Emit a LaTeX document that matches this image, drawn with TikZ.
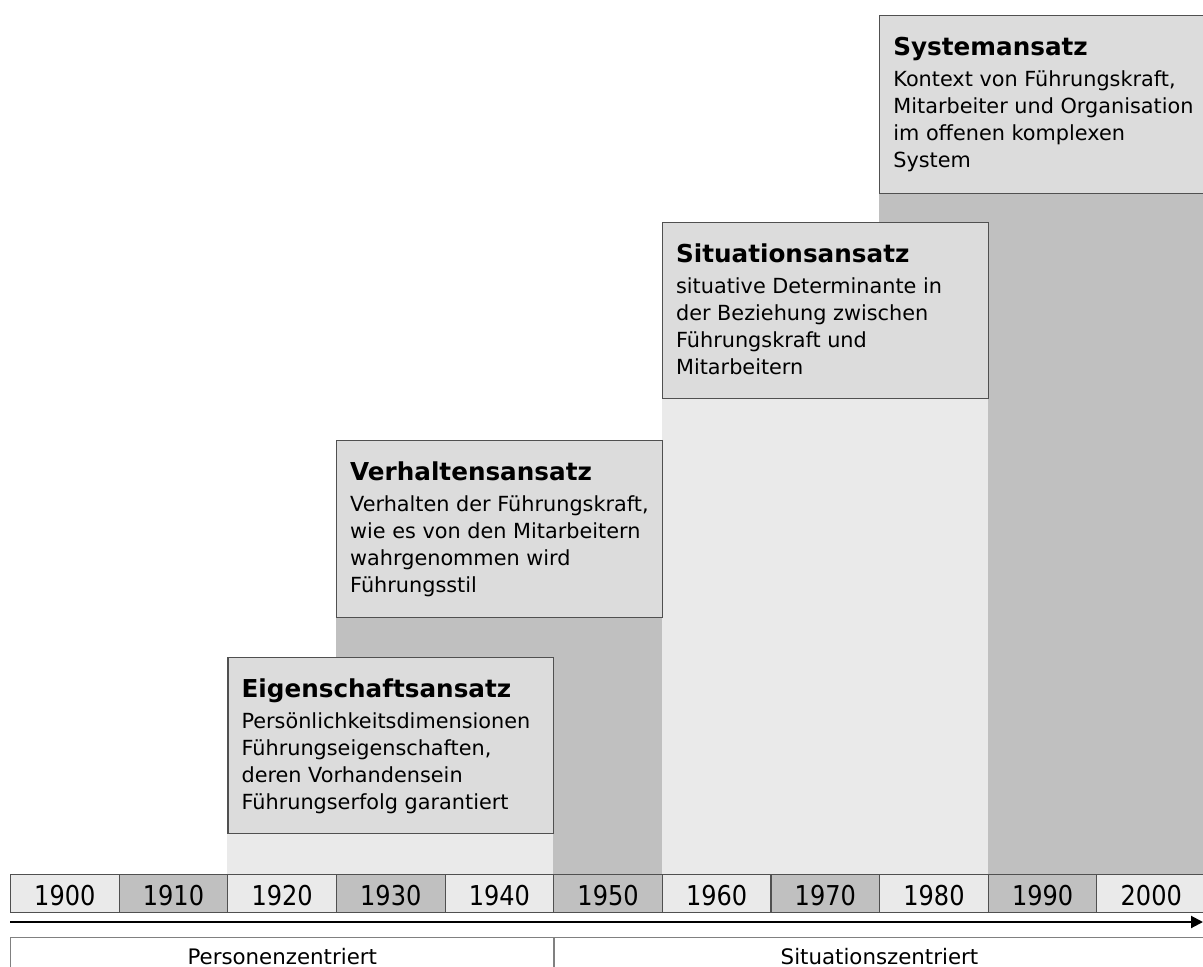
\documentclass[tikz,border=0pt]{standalone}
\usepackage{fontspec}
\setmainfont{DejaVu Sans}
\newfontfamily\yearfamily[FakeStretch=0.88]{DejaVu Sans}
\usetikzlibrary{arrows.meta,calc}
\definecolor{boxfill}{HTML}{DCDCDC}
\definecolor{lightcol}{HTML}{EAEAEA}
\definecolor{darkcol}{HTML}{C0C0C0}
\definecolor{edgecol}{HTML}{505050}
\definecolor{lowedge}{HTML}{808080}
\newcommand{\bodyfont}{\fontsize{15.6}{20.25}\selectfont}
\newcommand{\titlefont}{\fontsize{18.5}{22}\selectfont\bfseries}
\newcommand{\bodylines}[1]{\parbox[t]{300pt}{\bodyfont #1}}
\begin{document}
\begin{tikzpicture}[x=0.75pt,y=-0.75pt,
  stagebox/.style={draw=edgecol, fill=boxfill, line width=0.9pt, anchor=north west,
    inner sep=0pt, minimum width=244.4pt},
  lightband/.style={fill=lightcol},
  darkband/.style={fill=darkcol},
  ttl/.style={anchor=base west, inner sep=0pt, font=\titlefont},
  bdy/.style={anchor=base west, inner sep=0pt},
  yearcell/.style={draw=edgecol, line width=0.8pt, anchor=north west, inner sep=0pt,
    minimum width=81.48pt, minimum height=28.5pt, text height=19pt, text depth=0.5pt,
    font=\yearfamily\fontsize{20.5}{24}\selectfont},
  ylight/.style={yearcell, fill=lightcol},
  ydark/.style={yearcell, fill=darkcol},
  lowbox/.style={draw=lowedge, line width=1pt, fill=white, anchor=north west, inner sep=0pt,
    minimum height=45pt},
  lowlabel/.style={anchor=base, inner sep=0pt, font=\fontsize{16}{19}\selectfont},
  timearrow/.style={line width=1.5pt, -{Triangle[length=9pt, width=9pt]}}
]
\useasboundingbox (0,0) rectangle (1203,967);
\clip (0,0) rectangle (1203,967);
\fill[white] (0,0) rectangle (1203,967);

% bands (from the boxes down to the time line)
\fill[darkband]  (879.1,15)  rectangle (1205,874);
\fill[lightband] (661.8,222) rectangle (987.7,874);
\fill[darkband]  (335.9,440) rectangle (661.8,874);
\fill[lightband] (227.3,657) rectangle (553.2,874);

% stage boxes
\node[stagebox, minimum height=133.5pt] (sys) at (879.1,15) {};
\node[stagebox, minimum height=132pt] (sit) at (661.8,222) {};
\node[stagebox, minimum height=132.75pt] (ver) at (335.9,440) {};
\node[stagebox, minimum height=132pt] (eig) at (227.3,657) {};

% texts
\node[ttl] (sysT) at ($(sys.north west)+(14,40)$) {Systemansatz};
\node[bdy] (sysB) at ($(sys.north west)+(14,71)$) {\bodylines{Kontext von Führungskraft,\\Mitarbeiter und Organisation\\im offenen komplexen\\System}};

\node[ttl] (sitT) at ($(sit.north west)+(14,40)$) {Situationsansatz};
\node[bdy] (sitB) at ($(sit.north west)+(14,71)$) {\bodylines{situative Determinante in\\der Beziehung zwischen\\Führungskraft und\\Mitarbeitern}};

\node[ttl] (verT) at ($(ver.north west)+(14,40)$) {Verhaltensansatz};
\node[bdy] (verB) at ($(ver.north west)+(14,71)$) {\bodylines{Verhalten der Führungskraft,\\wie es von den Mitarbeitern\\wahrgenommen wird\\Führungsstil}};

\node[ttl] (eigT) at ($(eig.north west)+(14,40)$) {Eigenschaftsansatz};
\node[bdy] (eigB) at ($(eig.north west)+(14,71)$) {\bodylines{Persönlichkeitsdimensionen\\Führungseigenschaften,\\deren Vorhandensein\\Führungserfolg garantiert}};

% year cells
\node[ylight] (y1900) at (10,874) {1900};
\node[ydark]  (y1910) at (118.64,874) {1910};
\node[ylight] (y1920) at (227.28,874) {1920};
\node[ydark]  (y1930) at (335.92,874) {1930};
\node[ylight] (y1940) at (444.56,874) {1940};
\node[ydark]  (y1950) at (553.2,874) {1950};
\node[ylight] (y1960) at (661.84,874) {1960};
\node[ydark]  (y1970) at (770.48,874) {1970};
\node[ylight] (y1980) at (879.12,874) {1980};
\node[ydark]  (y1990) at (987.76,874) {1990};
\node[ylight] (y2000) at (1096.4,874) {2000};

% time arrow
\coordinate (tstart) at (10,922);
\coordinate (tend) at (1203,922);
\draw[timearrow] (tstart) -- (tend);

% bottom boxes
\node[lowbox, minimum width=407.4pt] (pers) at (10,937) {};
\node[lowbox, minimum width=489pt] (situ) at (553.2,937) {};
\node[lowlabel] (persL) at ($(pers.north)+(0,27)$) {Personenzentriert};
\node[lowlabel] (situL) at (879.5,964) {Situationszentriert};
\end{tikzpicture}
\end{document}
